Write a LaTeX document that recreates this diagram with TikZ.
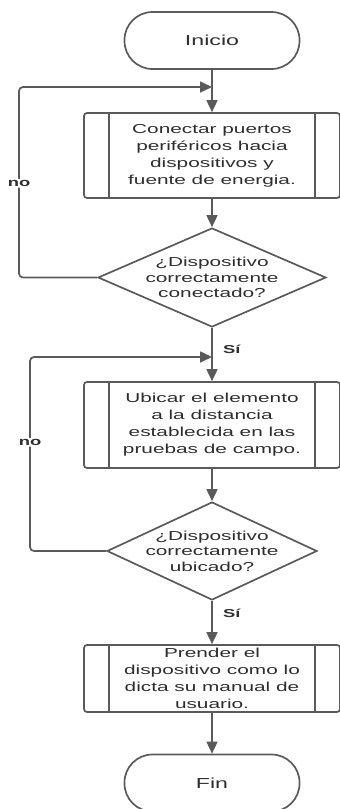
\documentclass[tikz,border=0pt]{standalone}
\usepackage{fontspec}
\setmainfont{Liberation Sans}[FakeStretch=1.6]
\usetikzlibrary{positioning,shapes.geometric,arrows.meta}
\definecolor{linegray}{HTML}{5A5A5A}
\definecolor{textgray}{HTML}{2E2E2E}

\begin{document}
\begin{tikzpicture}[x=1pt,y=-1pt,node distance=100pt,on grid,
    line width=1.7pt,draw=linegray,text=textgray]

      \tikzset{terminal/.style={draw=linegray,rectangle,rounded corners=28pt,minimum width=175pt,minimum height=57pt,font=\fontsize{14.5}{17}\selectfont}}
      \tikzset{subproc/.style={draw=linegray,rectangle,rounded corners=3pt,minimum width=256pt,inner sep=0pt,align=center,
          font=\fontsize{13}{17}\selectfont,
          path picture={\draw[linegray,line width=1.7pt]
            ([xshift=25pt]path picture bounding box.north west) -- ([xshift=25pt]path picture bounding box.south west)
            ([xshift=-25pt]path picture bounding box.north east) -- ([xshift=-25pt]path picture bounding box.south east);}}}
      \tikzset{decision/.style={draw=linegray,diamond,inner sep=0pt}}
      \tikzset{qtext/.style={align=center,font=\fontsize{13}{15.5}\selectfont}}
      \tikzset{flow/.style={draw=linegray,-{Triangle[length=12pt,width=11pt]}}}
      \tikzset{lbl/.style={font=\bfseries\fontsize{11.5}{13}\selectfont}}

      \useasboundingbox (0,0) rectangle (340,809);

      \node[terminal] (inicio) at (212,40.5) {Inicio};
      \node[subproc,minimum height=85pt] (conectar) [below = 115pt of inicio]
        {Conectar puertos\\periféricos hacia\\dispositivos y\\fuente de energia.};
      \node[decision,minimum width=228pt,minimum height=99pt,
        label={[qtext]center:¿Dispositivo\\correctamente\\conectado?}] (okcon) [below = 122pt of conectar] {};
      \node[subproc,minimum height=86pt] (ubicar) [below = 147.5pt of okcon]
        {Ubicar el elemento\\a la distancia\\establecida en las\\pruebas de campo.};
      \node[decision,minimum width=210pt,minimum height=98pt,
        label={[qtext]center:¿Dispositivo\\correctamente\\ubicado?}] (okubi) [below = 126pt of ubicar] {};
      \node[subproc,minimum height=67pt] (prender) [below = 127.5pt of okubi]
        {Prender el\\dispositivo como lo\\dicta su manual de\\usuario.};
      \node[terminal] (fin) [below = 104.5pt of prender] {Fin};

      % puntos de retorno
      \coordinate (ret1) at (212,87);
      \coordinate (ret2) at (212,357);
      \coordinate (esq1) at (19,87);
      \coordinate (esq2) at (30,357);

      \draw[flow] (inicio) -- (conectar);
      \draw[flow] (conectar) -- (okcon);
      \draw[flow] (okcon) -- node[lbl,anchor=west,pos=0.4,xshift=7pt] {Sí} (ubicar);
      \draw[flow] (ubicar) -- (okubi);
      \draw[flow] (okubi) -- node[lbl,anchor=west,pos=0.29,xshift=7pt] {Sí} (prender);
      \draw[flow] (prender) -- (fin);

      \draw[flow,rounded corners=4pt] (okcon.west) -| node[lbl,fill=white,pos=0.747,inner sep=1pt] {no} (esq1) -- (ret1);
      \draw[flow,rounded corners=4pt] (okubi.west) -| node[lbl,fill=white,pos=0.78,inner sep=1pt] {no} (esq2) -- (ret2);
    \end{tikzpicture}
\end{document}
